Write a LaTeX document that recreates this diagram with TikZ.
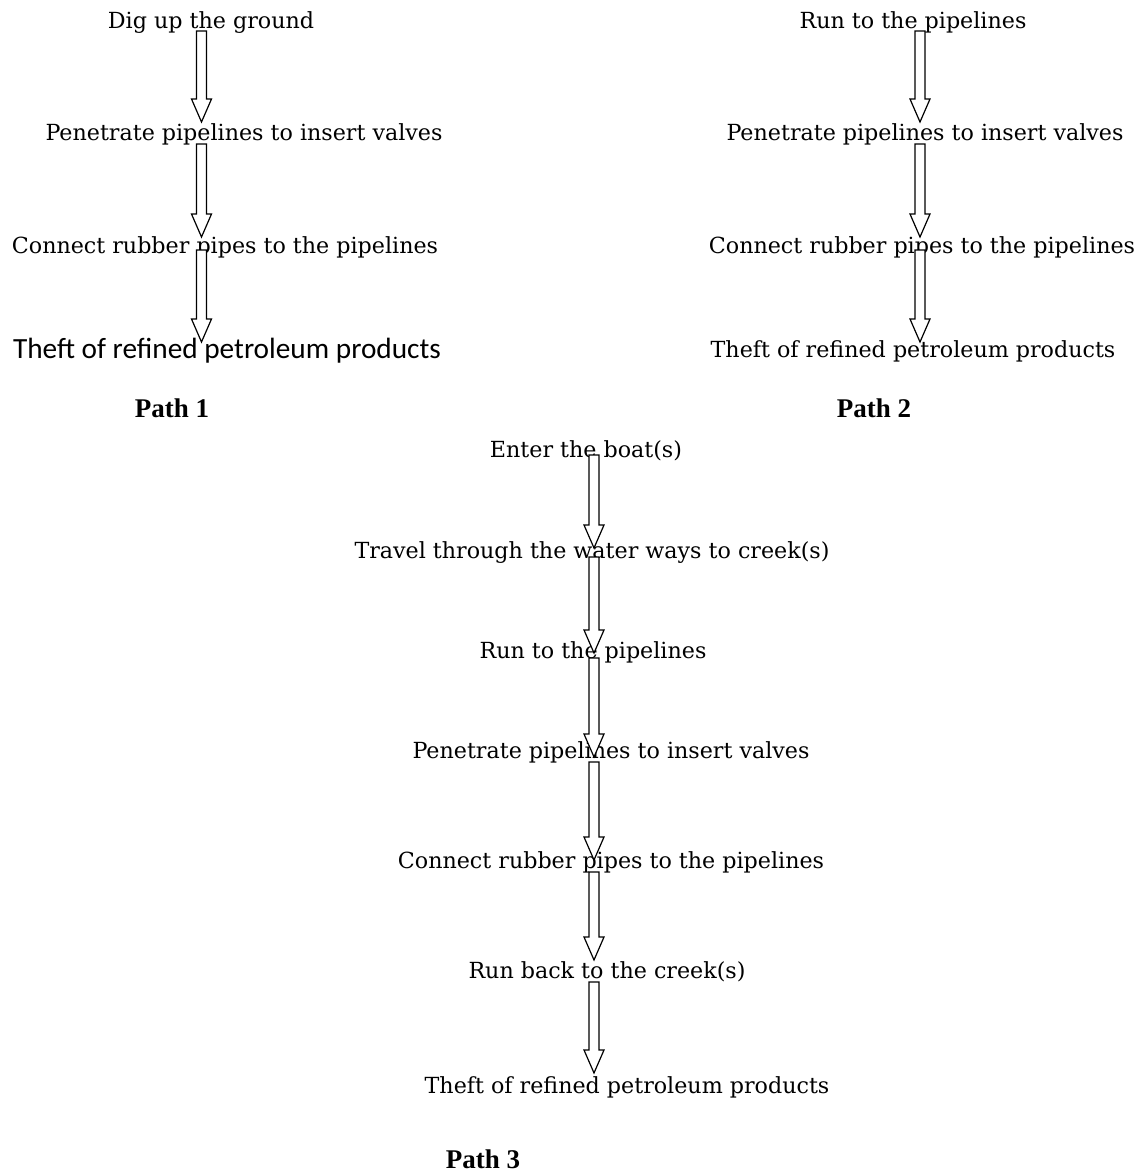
\documentclass[tikz,border=0pt]{standalone}
\usepackage{fontspec}
\setmainfont{DejaVu Serif}
\newfontfamily\calfont{Carlito}
\newfontfamily\labfont{Liberation Serif}
\usetikzlibrary{calc}
\tikzset{
  stepnode/.style={anchor=base, inner sep=0pt, font=\fontsize{22.2}{26}\selectfont},
  sansnode/.style={anchor=base, inner sep=0pt, font=\calfont\fontsize{29.3}{34}\selectfont},
  pathlabel/.style={anchor=base, inner sep=0pt, font=\labfont\bfseries\fontsize{27}{32}\selectfont},
  blockarrow/.style={draw=black, line width=1.2pt, fill=white, line join=miter}
}
\newcommand\blockarr[2]{%
  \draw[blockarrow] ($(#1)+(-5,0)$) -- ($(#1)+(5,0)$) -- ($(#2)+(5,-23)$) -- ($(#2)+(10,-23)$)
    -- (#2) -- ($(#2)+(-10,-23)$) -- ($(#2)+(-5,-23)$) -- cycle;}
\begin{document}
\begin{tikzpicture}[x=1pt,y=-1pt]
\useasboundingbox (0,0) rectangle (1140,1172);
% Path 1
\node[stepnode] (a1) at (211,29) {Dig up the ground};
\node[stepnode] (a2) at (244,140) {Penetrate pipelines to insert valves};
\node[stepnode] (a3) at (225,253) {Connect rubber pipes to the pipelines};
\node[sansnode] (a4) at (227,358) {Theft of refined petroleum products};
\node[pathlabel] (p1) at (172,417) {Path 1};
\coordinate (a1s) at (201.5,31);  \coordinate (a1e) at (201.5,122);
\coordinate (a2s) at (201.5,144); \coordinate (a2e) at (201.5,237);
\coordinate (a3s) at (201.5,250); \coordinate (a3e) at (201.5,342);
\blockarr{a1s}{a1e}
\blockarr{a2s}{a2e}
\blockarr{a3s}{a3e}
% Path 2
\node[stepnode] (b1) at (913,29) {Run to the pipelines};
\node[stepnode] (b2) at (925,140) {Penetrate pipelines to insert valves};
\node[stepnode] (b3) at (922,253) {Connect rubber pipes to the pipelines};
\node[stepnode] (b4) at (913,357) {Theft of refined petroleum products};
\node[pathlabel] (p2) at (874,417) {Path 2};
\coordinate (b1s) at (920,31);  \coordinate (b1e) at (920,122);
\coordinate (b2s) at (920,144); \coordinate (b2e) at (920,237);
\coordinate (b3s) at (920,250); \coordinate (b3e) at (920,342);
\blockarr{b1s}{b1e}
\blockarr{b2s}{b2e}
\blockarr{b3s}{b3e}
% Path 3
\node[stepnode] (c1) at (586,457) {Enter the boat(s)};
\node[stepnode] (c2) at (592,558) {Travel through the water ways to creek(s)};
\node[stepnode] (c3) at (593,658) {Run to the pipelines};
\node[stepnode] (c4) at (611,758) {Penetrate pipelines to insert valves};
\node[stepnode] (c5) at (611,868) {Connect rubber pipes to the pipelines};
\node[stepnode] (c6) at (607,978) {Run back to the creek(s)};
\node[stepnode] (c7) at (627,1093) {Theft of refined petroleum products};
\node[pathlabel] (p3) at (483,1168) {Path 3};
\coordinate (c1s) at (594,455); \coordinate (c1e) at (594,548);
\coordinate (c2s) at (594,557); \coordinate (c2e) at (594,653);
\coordinate (c3s) at (594,658); \coordinate (c3e) at (594,757);
\coordinate (c4s) at (594,762); \coordinate (c4e) at (594,860);
\coordinate (c5s) at (594,872); \coordinate (c5e) at (594,960);
\coordinate (c6s) at (594,982); \coordinate (c6e) at (594,1073);
\blockarr{c1s}{c1e}
\blockarr{c2s}{c2e}
\blockarr{c3s}{c3e}
\blockarr{c4s}{c4e}
\blockarr{c5s}{c5e}
\blockarr{c6s}{c6e}
\end{tikzpicture}
\end{document}
